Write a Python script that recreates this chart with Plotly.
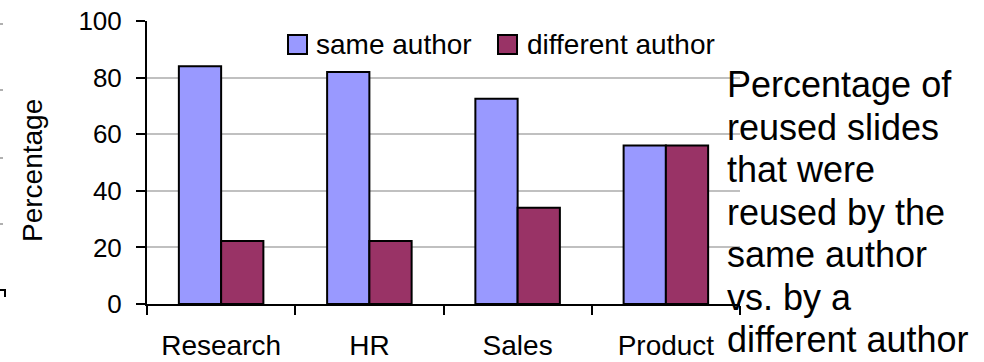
import plotly.graph_objects as go

# ---- data ----
categories = ["Research", "HR", "Sales", "Product"]
same_author = [84, 82, 72.5, 56]
different_author = [22.3, 22.3, 34, 56]
series_names = ["same author", "different author"]
y_ticks = [0, 20, 40, 60, 80, 100]
y_title = "Percentage"
side_note = ["Percentage of", "reused slides", "that were", "reused by the",
             "same author", "vs. by a", "different author"]

# ---- style ----
FONT = "Liberation Sans, Arial, sans-serif"
COLORS = ["#9999FF", "#993366"]
GRID = "#c0c0c0"

W, H = 984, 362
L, RIGHT, T, B = 147, 740, 21, 304  # plot area edges in pixels


def px(x):
    return (x - L) / (RIGHT - L)


def py(y):
    return (B - y) / (B - T)


pos = list(range(len(categories)))

fig = go.Figure()
for name, vals, col in zip(series_names, [same_author, different_author], COLORS):
    fig.add_trace(go.Bar(
        x=pos, y=vals, name=name,
        marker=dict(color=col, line=dict(color="black", width=2)),
        showlegend=False,
    ))

shapes = []
annotations = []

# legend drawn as swatches + labels inside the plot
legend_boxes = [(288, 307), (498, 517)]
legend_text_x = [314, 525]
for (x0, x1), tx, name, col in zip(legend_boxes, legend_text_x, series_names, COLORS):
    shapes.append(dict(type="rect", xref="paper", yref="paper",
                       x0=px(x0), x1=px(x1), y0=py(54), y1=py(35),
                       fillcolor=col, line=dict(color="black", width=2)))
    annotations.append(dict(text=name, xref="paper", yref="paper",
                            x=px(tx), y=py(44), xanchor="left", yanchor="middle",
                            showarrow=False, font=dict(family=FONT, size=28, color="black")))

# y axis title
annotations.append(dict(text=y_title, xref="paper", yref="paper",
                        x=px(32), y=py(170), textangle=-90,
                        xanchor="center", yanchor="middle", showarrow=False,
                        font=dict(family=FONT, size=28, color="black")))

# side note, one annotation per line
for i, line in enumerate(side_note):
    annotations.append(dict(text=line, xref="paper", yref="paper",
                            x=px(725), y=py(84.5 + 42.5 * i),
                            xanchor="left", yanchor="middle",
                            showarrow=False,
                            font=dict(family=FONT, size=36, color="black")))

# small marks along the left edge
for yy in [24, 90, 158, 224]:
    shapes.append(dict(type="line", xref="paper", yref="paper",
                       x0=px(0), x1=px(3), y0=py(yy), y1=py(yy),
                       line=dict(color="#b0b0b0", width=2)))
shapes.append(dict(type="line", xref="paper", yref="paper",
                   x0=px(0), x1=px(6), y0=py(290), y1=py(290),
                   line=dict(color="black", width=2)))
shapes.append(dict(type="line", xref="paper", yref="paper",
                   x0=px(5), x1=px(5), y0=py(290), y1=py(297),
                   line=dict(color="black", width=2)))

fig.update_layout(
    width=W, height=H,
    margin=dict(l=L, r=W - RIGHT, t=T, b=H - B, pad=0, autoexpand=False),
    paper_bgcolor="white", plot_bgcolor="white",
    barmode="group", bargap=0.43, bargroupgap=0,
    font=dict(family=FONT, color="black"),
    shapes=shapes, annotations=annotations,
    xaxis=dict(
        range=[-0.5, len(categories) - 0.5],
        tickmode="array", tickvals=pos, ticktext=categories,
        ticks="", ticklabelstandoff=15, automargin=False,
        tickfont=dict(family=FONT, size=28, color="black"),
        showline=True, linecolor="black", linewidth=2,
        showgrid=False, zeroline=False,
        minor=dict(tickmode="array",
                   tickvals=[p - 0.5 for p in pos] + [len(categories) - 0.5],
                   ticks="outside", ticklen=9, tickwidth=2, tickcolor="black",
                   showgrid=False),
    ),
    yaxis=dict(
        range=[0, 100], tickmode="array", tickvals=y_ticks,
        ticks="outside", ticklen=9, tickwidth=2, tickcolor="black",
        ticklabelstandoff=9, automargin=False,
        tickfont=dict(family=FONT, size=26, color="black"),
        showline=True, linecolor="black", linewidth=2,
        showgrid=True, gridcolor=GRID, gridwidth=2, zeroline=False,
    ),
)

fig.write_html("out.html")
